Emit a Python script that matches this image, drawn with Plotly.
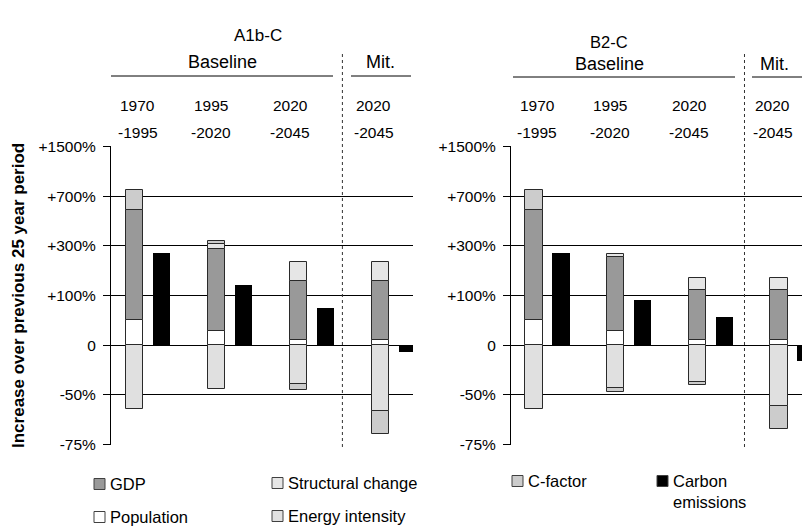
import numpy as np
import plotly.graph_objects as go

# ---- data: % change over each 25-year period ----
period_start = ["1970", "1995", "2020", "2020"]
period_end = ["1995", "2020", "2045", "2045"]

factors = ["Population", "GDP", "Structural change", "Energy intensity", "C-factor"]
factor_colors = ["#ffffff", "#999999", "#e6e6e6", "#e0e0e0", "#cccccc"]

# A1b-C scenario (last column = mitigation case)
a1b_population = [43, 22, 7, 7]
a1b_gdp = [362, 216, 128, 128]
a1b_structural = [0, 6, 30, 30]
a1b_energy = [-59, -45.5, -42, -60]
a1b_cfactor = [32, 5, -8, -28]
a1b_carbon = [262, 130, 69, -8.5]

# B2-C scenario (last column = mitigation case)
b2_population = [43, 21, 8, 8]
b2_gdp = [362, 184, 100, 100]
b2_structural = [0, 4, 19, 19]
b2_energy = [-59, -45, -40, -57]
b2_cfactor = [32, -5, -4.6, -28]
b2_carbon = [262, 89, 49, -20]

tick_vals = [-2, -1, 0, 1, 2, 3, 4]   # log2 of growth factor

W, H = 802, 528
FONT = "Liberation Sans, Arial, sans-serif"


def lg(pcts):
    """Percent change -> log2 growth factor (multiplicative factors stack additively)."""
    return [None if p == 0 else float(np.log2(1 + p / 100.0)) for p in pcts]


def pct_label(v):
    p = round((2.0 ** v - 1) * 100)
    if p == 0:
        return "0"
    return f"+{p}%" if p > 0 else f"{p}%"


def px(x):
    return x / W


def py(y):
    return 1 - y / H


fig = go.Figure()

panels = [
    ("x", "y", [a1b_population, a1b_gdp, a1b_structural, a1b_energy, a1b_cfactor], a1b_carbon),
    ("x2", "y2", [b2_population, b2_gdp, b2_structural, b2_energy, b2_cfactor], b2_carbon),
]

pos = np.arange(len(period_start), dtype=float)
bar_w = 0.215
for xa, ya, comps, carbon in panels:
    for name, color, vals in zip(factors, factor_colors, comps):
        fig.add_trace(go.Bar(
            x=pos, y=lg(vals), name=name, width=bar_w,
            marker=dict(color=color, line=dict(color="#2a2a2a", width=1)),
            xaxis=xa, yaxis=ya, showlegend=False,
        ))
    fig.add_trace(go.Bar(
        x=pos + 0.33, y=lg(carbon), name="Carbon emissions", width=bar_w,
        marker=dict(color="#000000", line=dict(color="#000000", width=0)),
        xaxis=xa, yaxis=ya, showlegend=False,
    ))

ydom = [py(445), py(146)]
yax = dict(
    domain=ydom, range=[-2.012, 4.012], automargin=False,
    tickvals=tick_vals, ticktext=[pct_label(v) for v in tick_vals],
    showgrid=True, gridcolor="#000000", gridwidth=1,
    zeroline=False, showline=True, linecolor="#000000", linewidth=1,
    ticks="outside", ticklen=7, tickcolor="#000000", ticklabelstandoff=4,
    tickfont=dict(family=FONT, size=15.5, color="#000000"),
)
xax = dict(showgrid=False, zeroline=False, showticklabels=False, ticks="",
           showline=False, automargin=False)

fig.update_layout(
    width=W, height=H, autosize=False,
    margin=dict(l=0, r=0, t=0, b=0, pad=0, autoexpand=False),
    paper_bgcolor="#ffffff", plot_bgcolor="#ffffff",
    barmode="relative", bargap=0,
    font=dict(family=FONT, size=15, color="#000000"),
    xaxis=dict(xax, domain=[px(111), px(413)], range=[-0.287, 3.396]),
    xaxis2=dict(xax, domain=[px(511), 1.0], range=[-0.279, 3.278]),
    yaxis=dict(yax, anchor="x"),
    yaxis2=dict(yax, anchor="x2"),
)

ann = []
shapes = []


def text(x, y, s, size=15, xanchor="center", xref="paper", bold=False, angle=0):
    ann.append(dict(
        x=x, y=y, xref=xref, yref="paper", text=f"<b>{s}</b>" if bold else s,
        showarrow=False, xanchor=xanchor, yanchor="middle", textangle=angle,
        font=dict(family=FONT, size=size, color="#000000"),
    ))


def hline(x0, x1, y):
    shapes.append(dict(type="line", xref="paper", yref="paper",
                       x0=px(x0), x1=px(x1), y0=py(y), y1=py(y),
                       line=dict(color="#000000", width=1)))


# panel titles and scenario headers
text(px(258), py(35), "A1b-C", size=17)
text(px(609), py(42), "B2-C", size=16.5)

text(px(222), py(62), "Baseline", size=18)
text(px(380), py(62), "Mit.", size=18)
hline(111, 333, 76)
hline(351, 411, 76)

text(px(609), py(64), "Baseline", size=18)
text(px(774), py(64), "Mit.", size=18)
hline(513, 735, 77)
hline(752, 802, 77)

# period labels above each decomposition bar
label_shift = [0.04, -0.07, -0.1, -0.08]
for xa in ["x", "x2"]:
    for i, (s, e) in enumerate(zip(period_start, period_end)):
        ann.append(dict(x=pos[i] + label_shift[i], y=py(106), xref=xa, yref="paper",
                        text=s, showarrow=False, xanchor="center", yanchor="middle",
                        font=dict(family=FONT, size=15.5, color="#000000")))
        ann.append(dict(x=pos[i] + label_shift[i], y=py(132), xref=xa, yref="paper",
                        text="-" + e, showarrow=False, xanchor="center", yanchor="middle",
                        font=dict(family=FONT, size=15.5, color="#000000")))

# dotted separator between baseline and mitigation
for xa, xs in [("x", 2.535), ("x2", 2.575)]:
    shapes.append(dict(type="line", xref=xa, yref="paper", x0=xs, x1=xs,
                       y0=py(447), y1=py(52),
                       line=dict(color="#333333", width=1, dash="dot")))

# y-axis title
text(px(18), py(296), "Increase over previous 25 year period", size=17, bold=True, angle=-90)

# legend
legend_items = [
    ("GDP", factor_colors[1], 94, 484),
    ("Population", factor_colors[0], 94, 517),
    ("Structural change", factor_colors[2], 272, 483),
    ("Energy intensity", factor_colors[3], 272, 516),
    ("C-factor", factor_colors[4], 512, 481),
    ("Carbon<br>emissions", "#000000", 657, 481),
]
for label, color, x0, yc in legend_items:
    shapes.append(dict(type="rect", xref="paper", yref="paper",
                       x0=px(x0), x1=px(x0 + 11), y0=py(yc + 5.5), y1=py(yc - 5.5),
                       fillcolor=color, line=dict(color="#404040", width=1)))
    if "<br>" in label:
        ann.append(dict(x=px(x0 + 14), y=py(yc - 11), xref="paper", yref="paper",
                        text=label, showarrow=False, xanchor="left", yanchor="top",
                        align="left",
                        font=dict(family=FONT, size=16.5, color="#000000")))
    else:
        text(px(x0 + 14), py(yc), label, size=16.5, xanchor="left")

fig.update_layout(annotations=ann, shapes=shapes)
fig.write_html("out.html")
